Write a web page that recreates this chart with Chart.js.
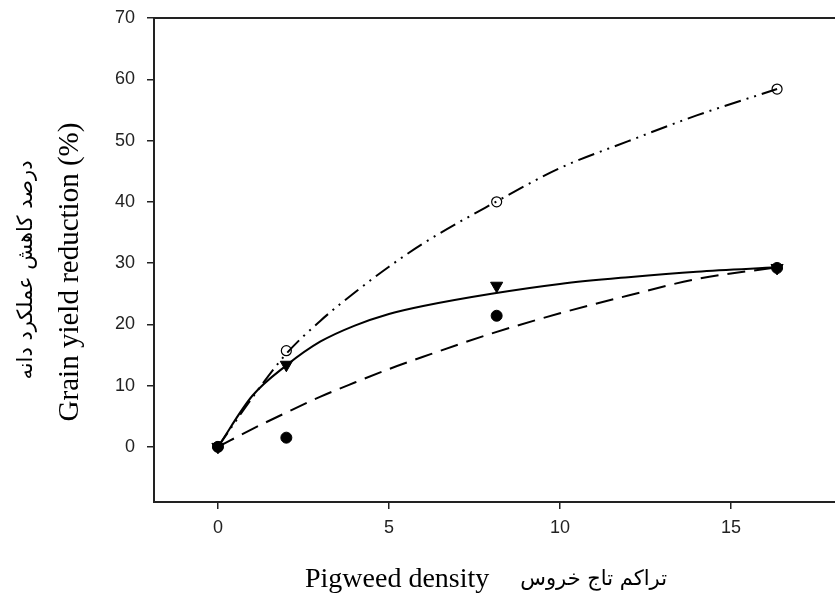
<!DOCTYPE html>
<html>
<head>
<meta charset="utf-8">
<script src="https://cdn.jsdelivr.net/npm/chart.js@4/dist/chart.umd.min.js"></script>
<style>
  html, body { margin: 0; padding: 0; background: #fff; }
  #wrap { width: 835px; height: 599px; }
</style>
</head>
<body>
<div id="wrap"><canvas id="chart" width="835" height="599"></canvas></div>
<script>
// observed points
const densities = [0, 2, 8.15, 16.35];
const openCircleVals = [0, 15.7, 40.0, 58.4];
const triangleVals = [0, 13.4, 26.3, 29.2];
const filledCircleVals = [0, 1.5, 21.4, 29.2];

// fitted curves
const curveX = [0, 1, 2, 3, 4, 5, 6, 8, 10, 12, 14, 16.35];
const dashDotCurve = [0, 8.0, 15.2, 20.6, 25.2, 29.4, 33.2, 39.6, 45.5, 49.9, 54.1, 58.4];
const solidCurve = [0, 8.3, 13.3, 17.2, 19.8, 21.7, 23.0, 25.0, 26.6, 27.7, 28.6, 29.3];
const dashedCurve = [0, 2.9, 5.6, 8.2, 10.5, 12.7, 14.7, 18.5, 21.8, 24.7, 27.4, 29.3];

const xTicks = [0, 5, 10, 15];
const yTicks = [0, 10, 20, 30, 40, 50, 60, 70];

const yTitleEn = 'Grain yield reduction (%)';
const yTitleFa = 'درصد کاهش عملکرد دانه';
const xTitleEn = 'Pigweed density';
const xTitleFa = 'تراکم تاج خروس';

function pts(xs, ys) {
  return xs.map((x, i) => ({ x, y: ys[i] }));
}

const titlesPlugin = {
  id: 'titles',
  afterDraw(chart) {
    const ctx = chart.ctx;
    const a = chart.chartArea;
    ctx.save();
    // top frame line, and bottom axis running on to the cropped edge
    ctx.strokeStyle = '#222';
    ctx.lineWidth = 2;
    ctx.beginPath();
    ctx.moveTo(a.left, a.top);
    ctx.lineTo(chart.width, a.top);
    ctx.moveTo(a.right - 1, a.bottom);
    ctx.lineTo(chart.width, a.bottom);
    ctx.stroke();

    ctx.fillStyle = '#000';
    // x title
    ctx.textBaseline = 'alphabetic';
    ctx.textAlign = 'left';
    ctx.font = '28px "Liberation Serif"';
    ctx.fillText(xTitleEn, 305, 587);
    ctx.textAlign = 'right';
    ctx.font = '21px "DejaVu Sans"';
    ctx.fillText(xTitleFa, 667, 585);

    // y titles (rotated)
    ctx.save();
    ctx.translate(70, 272);
    ctx.rotate(-Math.PI / 2);
    ctx.textAlign = 'center';
    ctx.textBaseline = 'middle';
    ctx.font = '29px "Liberation Serif"';
    ctx.fillText(yTitleEn, 0, 0);
    ctx.restore();

    ctx.save();
    ctx.translate(27, 270);
    ctx.rotate(-Math.PI / 2);
    ctx.textAlign = 'center';
    ctx.textBaseline = 'middle';
    ctx.font = '21px "DejaVu Sans"';
    ctx.fillText(yTitleFa, 0, 0);
    ctx.restore();

    ctx.restore();
  }
};

new Chart(document.getElementById('chart'), {
  type: 'scatter',
  data: {
    datasets: [
      {
        data: pts(curveX, dashDotCurve),
        showLine: true, borderColor: '#000', borderWidth: 2,
        borderDash: [17, 6, 2, 6, 2, 6], pointRadius: 0,
        cubicInterpolationMode: 'monotone'
      },
      {
        data: pts(curveX, solidCurve),
        showLine: true, borderColor: '#000', borderWidth: 2,
        pointRadius: 0, cubicInterpolationMode: 'monotone'
      },
      {
        data: pts(curveX, dashedCurve),
        showLine: true, borderColor: '#000', borderWidth: 2,
        borderDash: [18, 9], pointRadius: 0,
        cubicInterpolationMode: 'monotone'
      },
      {
        data: pts(densities, filledCircleVals),
        showLine: false, pointStyle: 'circle', pointRadius: 5.5,
        backgroundColor: '#000', borderColor: '#000', borderWidth: 1
      },
      {
        data: pts(densities, triangleVals),
        showLine: false, pointStyle: 'triangle', pointRotation: 180, pointRadius: 7,
        backgroundColor: '#000', borderColor: '#000', borderWidth: 1
      },
      {
        data: pts(densities, openCircleVals),
        showLine: false, pointStyle: 'circle', pointRadius: 5,
        backgroundColor: '#fff', borderColor: '#000', borderWidth: 1.2
      }
    ]
  },
  options: {
    responsive: false,
    animation: false,
    layout: { padding: { left: 0, top: 18, right: 0, bottom: 0 } },
    plugins: { legend: { display: false }, tooltip: { enabled: false } },
    scales: {
      x: {
        type: 'linear',
        min: -1.87, max: 17.81,
        afterFit(scale) { scale.height = 97; scale.paddingLeft = 0; scale.paddingRight = 0; },
        afterBuildTicks(scale) { scale.ticks = xTicks.map(v => ({ value: v })); },
        border: { display: true, color: '#222', width: 2 },
        grid: { drawOnChartArea: false, drawTicks: true, tickLength: 7, color: '#222', lineWidth: 1.5 },
        ticks: {
          color: '#222', padding: 8,
          font: { family: '"Liberation Sans", Arial', size: 18 }
        }
      },
      y: {
        type: 'linear',
        min: -9, max: 70,
        afterFit(scale) { scale.width = 154; scale.paddingTop = 0; scale.paddingBottom = 0; },
        afterBuildTicks(scale) { scale.ticks = yTicks.map(v => ({ value: v })); },
        border: { display: true, color: '#222', width: 2 },
        grid: { drawOnChartArea: false, drawTicks: true, tickLength: 7, color: '#222', lineWidth: 1.5 },
        ticks: {
          color: '#222', padding: 12,
          font: { family: '"Liberation Sans", Arial', size: 18 }
        }
      }
    }
  },
  plugins: [titlesPlugin]
});
</script>
</body>
</html>
